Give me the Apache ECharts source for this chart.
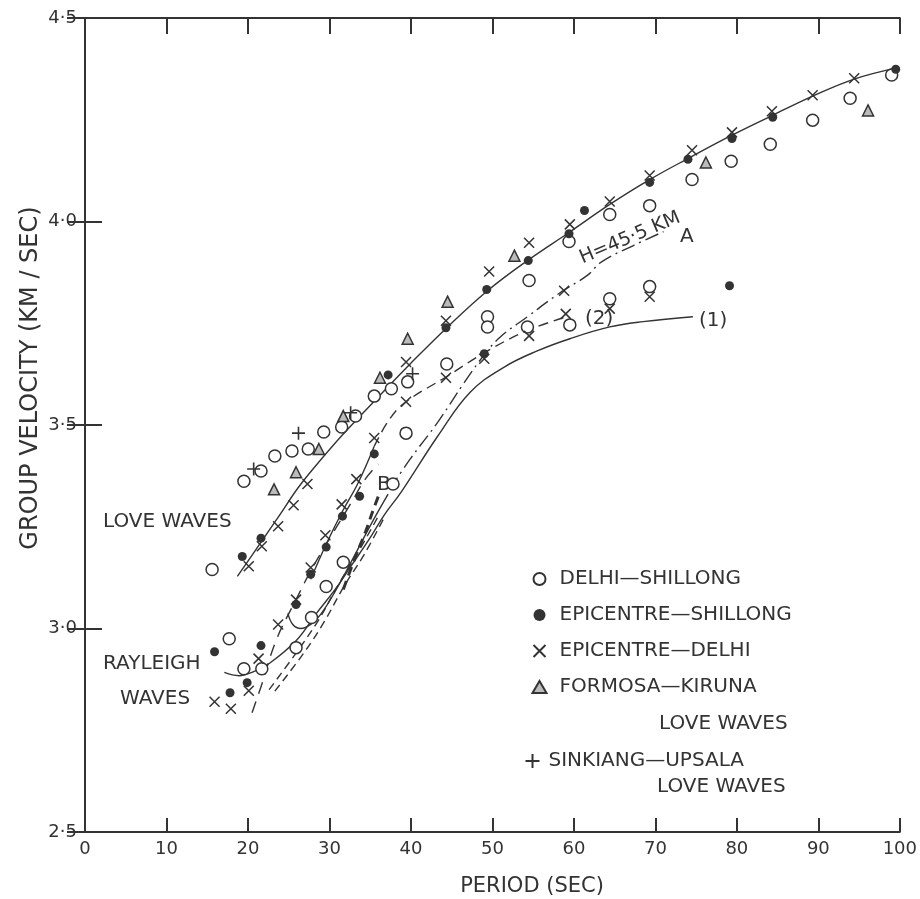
<!DOCTYPE html>
<html>
<head>
<meta charset="utf-8">
<title>Group velocity - period</title>
<script src="https://cdn.jsdelivr.net/npm/echarts@6/dist/echarts.min.js"></script>
<style>
  html, body { margin: 0; padding: 0; background: #fff; }
  #chart { width: 920px; height: 899px; }
</style>
</head>
<body>
<div id="chart"></div>
<script>
const ink = '#333'
const font = 'DejaVu Sans'

// tick values
const periodTicks = [0, 10, 20, 30, 40, 50, 60, 70, 80, 90, 100]
const velocityTicks = [2.5, 3.0, 3.5, 4.0, 4.5]

// observations [period, group velocity]
const delhiShillong = [
  [99.0, 4.360], [93.9, 4.303], [89.3, 4.249], [84.1, 4.190], [79.3, 4.148],
  [74.5, 4.103], [69.3, 4.039], [64.4, 4.017], [59.4, 3.951], [54.5, 3.855],
  [69.3, 3.840], [64.4, 3.810], [59.5, 3.746], [54.3, 3.741], [49.4, 3.766],
  [49.4, 3.741], [44.4, 3.650], [39.4, 3.480], [39.6, 3.606], [37.6, 3.589],
  [35.5, 3.571], [33.2, 3.522], [31.5, 3.495], [29.3, 3.483], [27.4, 3.441],
  [25.4, 3.436], [23.3, 3.424], [21.6, 3.387], [19.5, 3.362], [15.6, 3.145],
  [37.8, 3.355], [31.7, 3.163], [29.6, 3.103], [27.8, 3.027], [25.9, 2.953],
  [17.7, 2.975], [19.5, 2.901], [21.7, 2.901]
]
const epicentreShillong = [
  [99.5, 4.374], [84.4, 4.256], [79.4, 4.204], [74.0, 4.153], [69.3, 4.096],
  [61.3, 4.027], [59.4, 3.970], [54.4, 3.904], [49.3, 3.833], [44.3, 3.739],
  [37.2, 3.623], [79.1, 3.842], [49.0, 3.675], [35.5, 3.429], [33.7, 3.325],
  [31.6, 3.276], [29.6, 3.200], [27.7, 3.133], [25.9, 3.059], [21.6, 3.222],
  [19.3, 3.177], [15.9, 2.943], [21.6, 2.958], [19.9, 2.867], [17.8, 2.842]
]
const epicentreDelhi = [
  [94.4, 4.352], [89.3, 4.310], [84.3, 4.271], [79.4, 4.219], [74.5, 4.175],
  [69.3, 4.113], [64.4, 4.049], [59.5, 3.993], [54.5, 3.948], [49.6, 3.877],
  [44.3, 3.756], [39.4, 3.655], [69.3, 3.815], [64.4, 3.786], [59.0, 3.773],
  [54.5, 3.719], [49.0, 3.663], [58.8, 3.830], [44.3, 3.616], [39.4, 3.557],
  [35.5, 3.468], [33.3, 3.367], [31.5, 3.305], [29.5, 3.229], [27.7, 3.150],
  [27.3, 3.355], [25.6, 3.303], [23.7, 3.251], [21.7, 3.202], [20.1, 3.153],
  [25.9, 3.071], [23.7, 3.010], [21.3, 2.926], [20.1, 2.847], [15.9, 2.820],
  [17.9, 2.803]
]
const formosaKiruna = [
  [96.1, 4.273], [76.2, 4.145], [52.7, 3.916], [44.5, 3.803], [39.6, 3.712],
  [36.2, 3.616], [31.7, 3.522], [28.7, 3.441], [25.9, 3.384], [23.2, 3.342]
]
const sinkiangUpsala = [
  [26.2, 3.480], [20.7, 3.392], [32.6, 3.530], [40.2, 3.626]
]

// drawn curves
const loveUpper = [
  [18.7, 3.128], [21.6, 3.212], [23.8, 3.276], [26.2, 3.347], [28.7, 3.409],
  [31.7, 3.478], [36.0, 3.569], [39.9, 3.650], [44.5, 3.741], [49.4, 3.830],
  [54.3, 3.904], [59.4, 3.973], [64.4, 4.042], [69.3, 4.103], [74.5, 4.160],
  [79.4, 4.212], [84.4, 4.261], [89.3, 4.308], [94.4, 4.350], [99.5, 4.377]
]
const loveMiddle = [
  [27.7, 3.121], [29.6, 3.207], [31.6, 3.288], [33.5, 3.357], [35.5, 3.448]
]
const curve2 = [
  [35.5, 3.448], [37.4, 3.515], [39.4, 3.557], [44.3, 3.618], [49.4, 3.682],
  [54.3, 3.732], [59.1, 3.766]
]
const curveA = [
  [37.4, 3.342], [39.9, 3.416], [43.3, 3.507], [46.6, 3.606], [49.1, 3.675],
  [51.0, 3.717], [54.3, 3.766], [58.3, 3.825], [61.6, 3.867], [63.4, 3.901],
  [67.3, 3.941], [71.0, 3.975]
]
const curve1 = [
  [17.1, 2.892], [18.9, 2.884], [20.7, 2.894], [22.6, 2.914], [25.9, 2.970],
  [28.4, 3.037], [30.7, 3.096], [32.7, 3.155], [34.8, 3.217], [36.8, 3.281],
  [38.8, 3.335], [43.3, 3.473], [47.3, 3.581], [51.5, 3.643], [55.5, 3.682],
  [59.5, 3.712], [64.4, 3.741], [68.5, 3.754], [74.6, 3.766]
]
const rayleighHook = [
  [24.9, 3.037], [25.5, 3.010], [26.5, 3.000], [27.7, 3.010], [28.9, 3.034],
  [30.7, 3.091], [32.7, 3.165], [35.1, 3.256], [37.2, 3.330]
]
const rayleighDashed = [
  [20.5, 2.793], [21.6, 2.857], [23.5, 2.973], [25.9, 3.071], [27.8, 3.145],
  [30.2, 3.227], [32.7, 3.310], [34.4, 3.367], [36.0, 3.404]
]
const rayleighDouble1 = [
  [22.6, 2.850], [26.2, 2.948], [28.7, 3.022], [31.1, 3.108], [33.5, 3.187], [36.0, 3.276]
]
const rayleighDouble2 = [
  [23.3, 2.846], [27.0, 2.944], [29.4, 3.018], [31.8, 3.104], [34.3, 3.183], [36.7, 3.272]
]
const rayleighHeavy = [
  [31.7, 3.096], [33.2, 3.177], [34.4, 3.236], [35.4, 3.293], [36.2, 3.335]
]

const crossPath = 'path://M0,0L10,10M10,0L0,10'
const plusPath = 'path://M5,0L5,10M0,5L10,5'

const chart = echarts.init(document.getElementById('chart'))

function curve(data, type, width) {
  return {
    type: 'line',
    data: data,
    symbol: 'none',
    smooth: 0.4,
    silent: true,
    z: 1,
    lineStyle: { color: ink, width: width || 1.4, type: type || 'solid' }
  }
}

function points(name, data, symbol, size, fill, border) {
  return {
    name: name,
    type: 'scatter',
    data: data,
    symbol: symbol,
    symbolSize: size,
    z: 3,
    itemStyle: { color: fill, borderColor: ink, borderWidth: border, opacity: 1 }
  }
}

function label(text, left, top, size) {
  return {
    type: 'text',
    left: left,
    top: top,
    style: { text: text, fill: ink, font: (size || 20) + 'px "' + font + '"' }
  }
}

const legendText = { color: ink, fontSize: 20, fontFamily: font, lineHeight: 20, padding: [0, 0, 0, 8] }

const option = {
  animation: false,
  backgroundColor: '#fff',
  grid: { left: 85, right: 15, top: 18, bottom: 67 },
  xAxis: [
    {
      type: 'value', min: 0, max: 100, interval: 10,
      axisLine: { lineStyle: { color: ink, width: 2 } },
      axisTick: { inside: true, length: 14, lineStyle: { color: ink, width: 2 } },
      axisLabel: { color: ink, fontSize: 18, fontFamily: font, margin: 8,
        formatter: v => periodTicks.includes(v) ? String(v) : '' },
      splitLine: { show: false }
    },
    {
      type: 'value', position: 'top', min: 0, max: 100, interval: 10,
      axisLine: { lineStyle: { color: ink, width: 2 } },
      axisTick: { inside: true, length: 16, lineStyle: { color: ink, width: 2 } },
      axisLabel: { show: false },
      splitLine: { show: false }
    }
  ],
  yAxis: [
    {
      type: 'value', min: 2.5, max: 4.5, interval: 0.5,
      axisLine: { lineStyle: { color: ink, width: 2 } },
      axisTick: { inside: true, length: 17, lineStyle: { color: ink, width: 2 } },
      axisLabel: { color: ink, fontSize: 18, fontFamily: font, margin: 8,
        formatter: v => velocityTicks.some(t => Math.abs(t - v) < 1e-6) ? v.toFixed(1).replace('.', '·') : '' },
      splitLine: { show: false }
    },
    {
      type: 'value', position: 'right', min: 2.5, max: 4.5, interval: 0.5,
      axisLine: { lineStyle: { color: ink, width: 2 } },
      axisTick: { inside: true, length: 18, lineStyle: { color: ink, width: 2 } },
      axisLabel: { show: false },
      splitLine: { show: false }
    }
  ],
  legend: [
    {
      data: ['DELHI—SHILLONG', 'EPICENTRE—SHILLONG', 'EPICENTRE—DELHI', 'FORMOSA—KIRUNA'],
      orient: 'vertical', left: 526, top: 564,
      itemWidth: 14, itemHeight: 12, itemGap: 16,
      selectedMode: false,
      textStyle: legendText
    },
    {
      data: ['SINKIANG—UPSALA'],
      orient: 'vertical', left: 518, top: 746,
      itemWidth: 14, itemHeight: 14,
      selectedMode: false,
      textStyle: { color: ink, fontSize: 20, fontFamily: font, lineHeight: 20, padding: [0, 0, 0, 4] }
    }
  ],
  graphic: [
    label('LOVE WAVES', 103, 512),
    label('RAYLEIGH', 103, 654),
    label('WAVES', 120, 689),
    label('B', 377, 475),
    label('(1)', 699, 311),
    label('(2)', 585, 309),
    label('A', 680, 227),
    label('LOVE WAVES', 659, 714),
    label('LOVE WAVES', 657, 777),
    {
      type: 'text', x: 630, y: 238, rotation: 0.40,
      style: { text: 'H=45·5 KM', fill: ink, font: '19px "' + font + '"', align: 'center', verticalAlign: 'middle' }
    },
    {
      type: 'text', x: 31, y: 378, rotation: Math.PI / 2,
      style: { text: 'GROUP VELOCITY (KM / SEC)', fill: ink, font: '24px "' + font + '"', align: 'center', verticalAlign: 'middle' }
    },
    {
      type: 'text', x: 532, y: 887,
      style: { text: 'PERIOD (SEC)', fill: ink, font: '21px "' + font + '"', align: 'center', verticalAlign: 'middle' }
    }
  ],
  series: [
    curve(loveUpper),
    curve(loveMiddle),
    curve(curve2, [10, 6]),
    curve(curveA, [14, 5, 2, 5]),
    curve(curve1),
    curve(rayleighHook),
    curve(rayleighDashed, [12, 8]),
    curve(rayleighDouble1, [8, 5]),
    curve(rayleighDouble2, [8, 5]),
    curve(rayleighHeavy, [9, 6], 3),
    points('DELHI—SHILLONG', delhiShillong, 'circle', 12, '#fff', 1.5),
    points('EPICENTRE—SHILLONG', epicentreShillong, 'circle', 9, ink, 0),
    points('EPICENTRE—DELHI', epicentreDelhi, crossPath, 10, 'none', 1.5),
    points('FORMOSA—KIRUNA', formosaKiruna, 'triangle', 11, '#bbb', 1.5),
    points('SINKIANG—UPSALA', sinkiangUpsala, plusPath, 13, 'none', 1.6)
  ]
}

chart.setOption(option)
</script>
</body>
</html>
